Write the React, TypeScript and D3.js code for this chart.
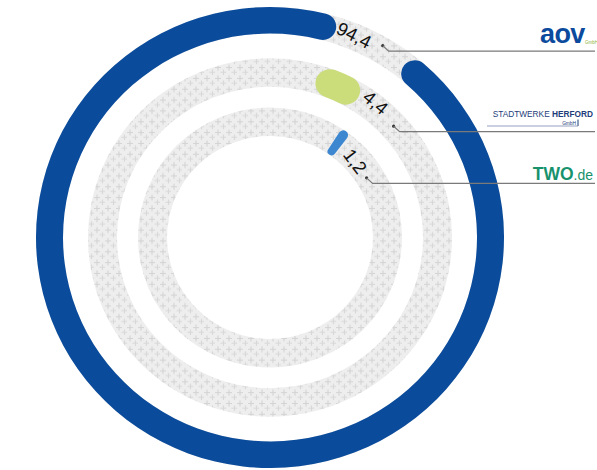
import React from "react";
import * as d3 from "d3";

// ---- data ----
const companies = ["aov GmbH", "Stadtwerke Herford GmbH", "TWO.de"];
const values = [94.4, 4.4, 1.2];
const valueLabels = ["94,4", "4,4", "1,2"];

// ---- layout / style ----
const W = 597;
const H = 470;
const cx = 270;
const cy = 237.5;
const sy = 0.985;
const rings = [
  { inner: 207, outer: 234 },
  { inner: 153, outer: 182 },
  { inner: 103, outer: 132 },
];
const startDeg = [37.5, 16, 33];
const barColors = ["#0a4b9b", "#cbdd7b", "#3d86d0"];
const labelOffsetPx = [19, 17.5, 21];
const dotOffsetPx = [50, 46, 41];
const labelRadius = [222, 173, 115];
const dotRadius = [225, 167.5, 114];
const rotExtra = [5, 2, 5];

const angle = d3.scaleLinear().domain([0, 100]).range([0, 2 * Math.PI]);
const toRad = (d: number) => (d * Math.PI) / 180;

function polar(r: number, a: number): [number, number] {
  return [cx + r * Math.sin(a), cy - r * Math.cos(a) * sy];
}

export default function App() {
  const track = d3.arc<any>();
  const bar = d3.arc<any>().cornerRadius((d: any) => d.cornerRadius);

  return (
    <svg
      width={W}
      height={H}
      style={{ position: "absolute", left: 0, top: 0, display: "block", background: "#fff" }}
    >
      <defs>
        <pattern id="cross" width="11" height="11" patternUnits="userSpaceOnUse">
          <rect width="11" height="11" fill="#eeeeee" />
          <path d="M3 0.5 V6.5 M0 3.5 H6" stroke="#d3d3d3" strokeWidth="1.1" />
          <path d="M8.5 5.5 V11 M5.5 8.3 H11" stroke="#d8d8d8" strokeWidth="1.1" />
        </pattern>
      </defs>
      <g transform={`translate(${cx},${cy}) scale(1,${sy})`}>
        {rings.map((r, i) => (
          <path
            key={"t" + i}
            d={track({ innerRadius: r.inner, outerRadius: r.outer, startAngle: 0, endAngle: 2 * Math.PI }) || ""}
            fill="url(#cross)"
          />
        ))}
        {values.map((v, i) => {
          const s = toRad(startDeg[i]);
          const e = s + angle(v);
          const r = rings[i];
          return (
            <path
              key={"b" + i}
              d={
                bar({
                  innerRadius: r.inner,
                  outerRadius: r.outer,
                  startAngle: s,
                  endAngle: e,
                  cornerRadius: (r.outer - r.inner) / 2,
                }) || ""
              }
              fill={barColors[i]}
            />
          );
        })}
      </g>
      {values.map((v, i) => {
        const s = toRad(startDeg[i]);
        const e = s + angle(v);
        const la = e + labelOffsetPx[i] / labelRadius[i];
        const [lx, ly] = polar(labelRadius[i], la);
        const da = e + dotOffsetPx[i] / dotRadius[i];
        const [dx, dy] = polar(dotRadius[i], da);
        const lineY = dy + 5.5;
        const rot = (la * 180) / Math.PI + rotExtra[i];
        return (
          <g key={"l" + i}>
            <text
              x={0}
              y={0}
              transform={`translate(${lx},${ly}) rotate(${rot})`}
              textAnchor="middle"
              dominantBaseline="central"
              fontFamily="'Liberation Sans', Arial, sans-serif"
              fontSize={18.5}
              fill="#111"
            >
              {valueLabels[i]}
            </text>
            <circle cx={dx} cy={dy} r={1.6} fill="#333" />
            <polyline
              points={`${dx},${dy} ${dx + 6},${lineY} ${595},${lineY}`}
              fill="none"
              stroke="#7a7a7a"
              strokeWidth={1.2}
            />
          </g>
        );
      })}
      {/* company logos as text */}
      <g fontFamily="'Liberation Sans', Arial, sans-serif">
        <text x={540} y={43} fontSize={27} fontWeight="bold" fill="#0b4a9c" letterSpacing={-0.6}>
          aov
        </text>
        <text x={585} y={43.5} fontSize={4.5} fill="#8db23c">
          GmbH
        </text>
        <text x={593} y={116.5} textAnchor="end" fontSize={8.3} fill="#1d3d7a">
          STADTWERKE <tspan fontWeight="bold">HERFORD</tspan>
        </text>
        <text x={576} y={124.5} textAnchor="end" fontSize={4.8} fill="#1d3d7a">
          GmbH
        </text>
        <line x1={578} x2={578} y1={119.5} y2={126} stroke="#1d3d7a" strokeWidth={1} />
        <line x1={487} x2={578} y1={126} y2={126} stroke="#6b7aa6" strokeWidth={0.7} />
        <text x={593} y={180} textAnchor="end" fill="#17926d">
          <tspan fontSize={17.5} fontWeight="bold">TWO</tspan>
          <tspan fontSize={14}>.de</tspan>
        </text>
        <title>{companies.join(", ")}</title>
      </g>
    </svg>
  );
}
